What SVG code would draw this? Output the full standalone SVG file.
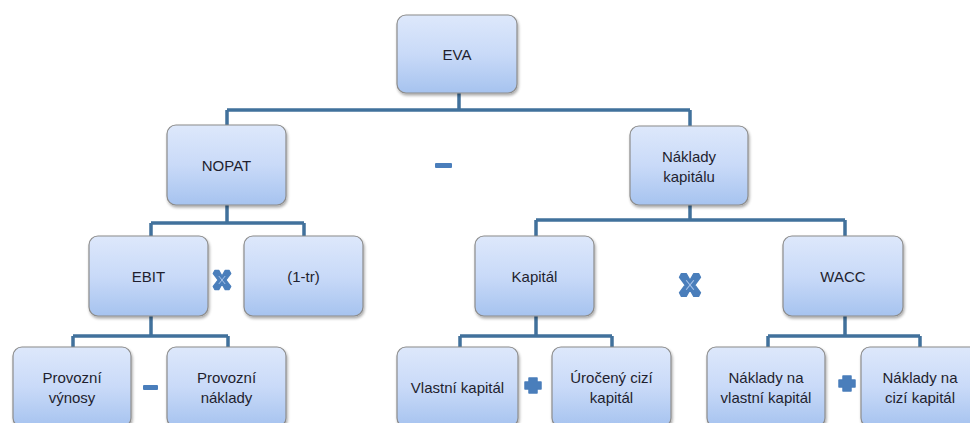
<svg xmlns="http://www.w3.org/2000/svg" width="970" height="423" viewBox="0 0 970 423">
<style>
.box{fill:url(#g);stroke:#8c8c8c;stroke-width:1.2;filter:url(#sh)}
.t{font-family:"Liberation Sans","Open Sans",sans-serif;font-size:15px;fill:#1f1f2f;text-anchor:middle;dominant-baseline:central}
.c{fill:none;stroke:#41719c;stroke-width:3.5}
.op{fill:#4a7ebb}
</style>
<defs>
<linearGradient id="g" x1="0" y1="0" x2="0" y2="1">
<stop offset="0" stop-color="#dde8fb"/>
<stop offset="0.5" stop-color="#c9daf8"/>
<stop offset="1" stop-color="#a6c3ef"/>
</linearGradient>
<filter id="sh" x="-10%" y="-10%" width="125%" height="130%">
<feGaussianBlur in="SourceAlpha" stdDeviation="1.5"/>
<feOffset dx="1" dy="2" result="o"/>
<feComponentTransfer><feFuncA type="linear" slope="0.35"/></feComponentTransfer>
<feMerge><feMergeNode/><feMergeNode in="SourceGraphic"/></feMerge>
</filter>
<g id="xs">
<path d="M-9,-12 L-4,-12 L0,-5 L4,-12 L9,-12 L11,-8 L5,0 L11,8 L9,12 L4,12 L0,5 L-4,12 L-9,12 L-11,8 L-5,0 L-11,-8 Z" fill="#4a7ebb" stroke="#4a7ebb" stroke-width="1.5" stroke-linejoin="round"/>
<path d="M-4,-5 L4,5 M4,-5 L-4,5" stroke="#a9c4ea" stroke-width="1.2"/>
</g>
</defs>
<rect width="970" height="423" fill="#ffffff"/>

<g id="connectors">
<path class="c" d="M459,93 V110 M227,110 H690 M227,110 V125 M690,110 V126"/>
<path class="c" d="M227,205 V223 M151,223 H304 M151,223 V236 M304,223 V236"/>
<path class="c" d="M690,205 V220 M536,220 H845 M536,220 V236 M845,220 V236"/>
<path class="c" d="M151,316 V336 M73,336 H228 M73,336 V347 M228,336 V347"/>
<path class="c" d="M536,316 V336 M460,336 H612 M460,336 V347 M612,336 V347"/>
<path class="c" d="M845,316 V336 M768,336 H920 M768,336 V347 M920,336 V347"/>
</g>

<g id="operators">
<rect class="op" x="435" y="163" width="17" height="5" rx="1"/>
<rect class="op" x="143" y="385" width="15" height="5" rx="1"/>
<path class="op" d="M529,378 h8 v4 h4 v7 h-4 v4 h-8 v-4 h-4 v-7 h4 z" stroke="#4a7ebb" stroke-linejoin="round" stroke-width="1.5"/>
<path class="op" d="M843,376 h8 v4 h4 v7 h-4 v4 h-8 v-4 h-4 v-7 h4 z" stroke="#4a7ebb" stroke-linejoin="round" stroke-width="1.5"/>
<use href="#xs" transform="translate(222,280) scale(0.8)"/>
<use href="#xs" transform="translate(690,285) scale(0.95)"/>
</g>

<g id="eva"><rect class="box" x="397" y="15" width="120" height="78" rx="9"/><text class="t" x="457" y="54">EVA</text></g>
<g id="nopat"><rect class="box" x="167" y="125" width="119" height="80" rx="9"/><text class="t" x="226.5" y="165">NOPAT</text></g>
<g id="naklady-kapitalu"><rect class="box" x="630" y="126" width="118" height="79" rx="9"/><text class="t" x="689" y="156">Náklady</text><text class="t" x="689" y="176">kapitálu</text></g>
<g id="ebit"><rect class="box" x="89" y="236" width="119" height="80" rx="9"/><text class="t" x="148.5" y="276">EBIT</text></g>
<g id="tax"><rect class="box" x="244" y="236" width="119" height="80" rx="9"/><text class="t" x="303.5" y="276">(1-tr)</text></g>
<g id="kapital"><rect class="box" x="475" y="236" width="119" height="80" rx="9"/><text class="t" x="534.5" y="276">Kapitál</text></g>
<g id="wacc"><rect class="box" x="783" y="236" width="120" height="80" rx="9"/><text class="t" x="843" y="276">WACC</text></g>
<g id="provozni-vynosy"><rect class="box" x="13" y="347" width="118" height="80" rx="9"/><text class="t" x="72" y="377">Provozní</text><text class="t" x="72" y="397">výnosy</text></g>
<g id="provozni-naklady"><rect class="box" x="167" y="347" width="119" height="80" rx="9"/><text class="t" x="226.5" y="377">Provozní</text><text class="t" x="226.5" y="397">náklady</text></g>
<g id="vlastni-kapital"><rect class="box" x="397" y="347" width="121" height="80" rx="9"/><text class="t" x="457.5" y="387">Vlastní kapitál</text></g>
<g id="uroceny-cizi-kapital"><rect class="box" x="552" y="347" width="119" height="80" rx="9"/><text class="t" x="611.5" y="377">Úročený cizí</text><text class="t" x="611.5" y="397">kapitál</text></g>
<g id="naklady-vlastni"><rect class="box" x="707" y="347" width="118" height="80" rx="9"/><text class="t" x="766" y="377">Náklady na</text><text class="t" x="766" y="397">vlastní kapitál</text></g>
<g id="naklady-cizi"><rect class="box" x="861" y="347" width="118" height="80" rx="9"/><text class="t" x="920" y="377">Náklady na</text><text class="t" x="920" y="397">cizí kapitál</text></g>
</svg>
